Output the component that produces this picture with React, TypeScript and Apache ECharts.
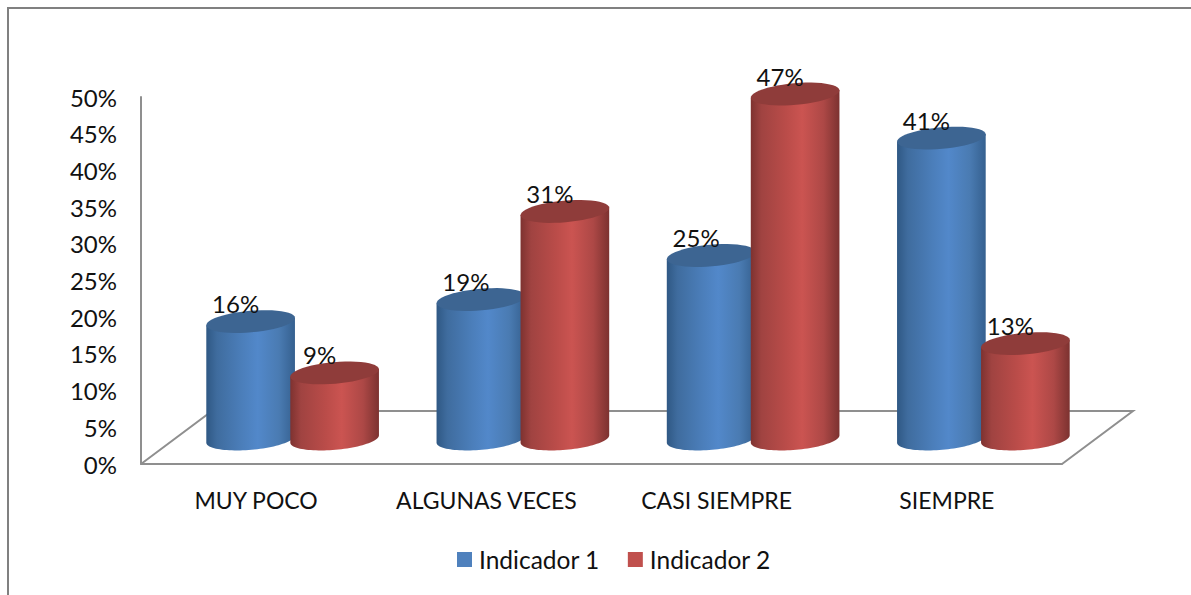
import React, { useEffect, useRef } from "react";
import * as echarts from "echarts";

const categories = ["MUY POCO", "ALGUNAS VECES", "CASI SIEMPRE", "SIEMPRE"];
const indicador1 = [16, 19, 25, 41];
const indicador2 = [9, 31, 47, 13];
const seriesNames = ["Indicador 1", "Indicador 2"];

const FONT = "Lato, Carlito, sans-serif";
const TEXT = "#111111";
const LINE = "#8f8f8f";

// Projection of the 3D scene onto the plot
const DEPTH_X = 36.5;
const DEPTH_Y = 25;
const FLOOR_DX = 71;
const FLOOR_DY = 53;
const BAR_SHIFT = 42;
const RX = 44.5;
const RY = 10.8;
const TILT = (5 * Math.PI) / 180;

const BLUE = {
  stops: [
    { offset: 0, color: "#2f5884" },
    { offset: 0.12, color: "#3f6c9e" },
    { offset: 0.4, color: "#4b7eba" },
    { offset: 0.58, color: "#5288ca" },
    { offset: 0.82, color: "#4a7bb2" },
    { offset: 1, color: "#35608f" },
  ],
  top: "#3d6592",
  legend: "#4f81bd",
};
const RED = {
  stops: [
    { offset: 0, color: "#7e3230" },
    { offset: 0.12, color: "#a04341" },
    { offset: 0.4, color: "#ba4c49" },
    { offset: 0.58, color: "#cb5451" },
    { offset: 0.82, color: "#ad4846" },
    { offset: 1, color: "#7c3230" },
  ],
  top: "#8f3c3a",
  legend: "#c0504d",
};

function ellipsePoint(cx: number, cy: number, t: number): number[] {
  const ex = RX * Math.cos(t);
  const ey = RY * Math.sin(t);
  return [
    cx + ex * Math.cos(TILT) + ey * Math.sin(TILT),
    cy - ex * Math.sin(TILT) + ey * Math.cos(TILT),
  ];
}

function arc(cx: number, cy: number, from: number, to: number): number[][] {
  const pts: number[][] = [];
  const steps = 48;
  for (let i = 0; i <= steps; i++) {
    pts.push(ellipsePoint(cx, cy, from + ((to - from) * i) / steps));
  }
  return pts;
}

function cylinderRenderer(shift: number, look: typeof BLUE) {
  return (_params: any, api: any) => {
    const cat = api.value(0);
    const val = api.value(1);
    const top = api.coord([cat, val]);
    const base = api.coord([cat, 0]);
    const cx = top[0] + DEPTH_X + shift;
    const topY = top[1] - DEPTH_Y;
    const baseY = base[1] - DEPTH_Y;
    const body = [
      ...arc(cx, baseY, 0, Math.PI),
      ellipsePoint(cx, topY, Math.PI),
      ellipsePoint(cx, topY, 0),
    ];
    return {
      type: "group",
      children: [
        {
          type: "polygon",
          shape: { points: body },
          style: {
            fill: new echarts.graphic.LinearGradient(0, 0, 1, 0, look.stops),
          },
        },
        {
          type: "polygon",
          shape: { points: arc(cx, topY, 0, Math.PI * 2) },
          style: { fill: look.top },
        },
        {
          type: "text",
          x: cx - 15,
          y: topY - 18,
          style: {
            text: val + "%",
            fill: TEXT,
            font: `24px ${FONT}`,
            align: "center",
            verticalAlign: "middle",
          },
        },
      ],
    };
  };
}

function floorRenderer(params: any) {
  const { x, y, width } = params.coordSys;
  const h = y + params.coordSys.height;
  return {
    type: "group",
    children: [
      {
        type: "polyline",
        shape: {
          points: [
            [x, h],
            [x + FLOOR_DX, h - FLOOR_DY],
            [x + width + FLOOR_DX, h - FLOOR_DY],
            [x + width, h],
          ],
        },
        style: { stroke: LINE, lineWidth: 2, fill: "none" },
      },
    ],
  };
}

export default function App() {
  const ref = useRef<HTMLDivElement>(null);
  useEffect(() => {
    document.body.style.margin = "0";
    const chart = echarts.init(ref.current!, null, { renderer: "svg" });
    chart.setOption({
      animation: false,
      backgroundColor: "#ffffff",
      textStyle: { fontFamily: FONT },
      grid: { left: 141, right: 129, top: 97, bottom: 131 },
      xAxis: {
        type: "category",
        data: categories,
        axisTick: { show: false },
        axisLine: { show: true, lineStyle: { color: LINE, width: 2 } },
        axisLabel: {
          color: TEXT,
          fontFamily: FONT,
          fontSize: 23,
          margin: 24,
          interval: 0,
          hideOverlap: false,
        },
      },
      yAxis: {
        type: "value",
        min: 0,
        max: 50,
        interval: 5,
        splitLine: { show: false },
        axisTick: { show: false },
        axisLine: { show: true, lineStyle: { color: LINE, width: 2 } },
        axisLabel: {
          color: TEXT,
          fontFamily: FONT,
          fontSize: 24,
          margin: 24,
          formatter: "{value}%",
        },
      },
      legend: {
        left: 452,
        top: 542,
        itemWidth: 15,
        itemHeight: 15,
        itemGap: 28,
        icon: "rect",
        textStyle: { color: TEXT, fontFamily: FONT, fontSize: 24.5, padding: [0, 0, 0, 2] },
        data: [
          { name: seriesNames[0], itemStyle: { color: BLUE.legend } },
          { name: seriesNames[1], itemStyle: { color: RED.legend } },
        ],
      },
      graphic: [
        {
          type: "polyline",
          silent: true,
          shape: { points: [[8, 595], [8, 8], [1191, 8]] },
          style: { stroke: "#808080", lineWidth: 2, fill: "none" },
        },
      ],
      series: [
        {
          type: "custom",
          name: "floor",
          silent: true,
          renderItem: floorRenderer,
          data: [[0, 0]],
          z: 1,
        },
        {
          type: "custom",
          name: seriesNames[0],
          renderItem: cylinderRenderer(-BAR_SHIFT, BLUE),
          data: indicador1.map((v, i) => [i, v]),
          z: 2,
        },
        {
          type: "custom",
          name: seriesNames[1],
          renderItem: cylinderRenderer(BAR_SHIFT, RED),
          data: indicador2.map((v, i) => [i, v]),
          z: 3,
        },
      ],
    });
    return () => chart.dispose();
  }, []);
  return <div ref={ref} style={{ width: 1191, height: 595 }} />;
}
